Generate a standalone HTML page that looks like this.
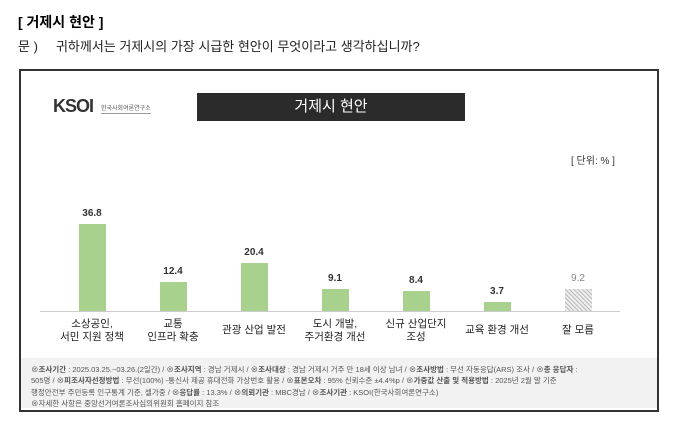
<!DOCTYPE html><html><head><meta charset="utf-8"><style>
body{margin:0;width:679px;height:432px;background:#fff;position:relative;font-family:"Liberation Sans","Noto Sans CJK KR",sans-serif;overflow:hidden}
.a{position:absolute;white-space:nowrap}
.bar{position:absolute;background:#a9d18e;width:27px}
.v{position:absolute;width:60px;text-align:center;font-size:10px;font-weight:bold;color:#333}
.l{position:absolute;width:80px;text-align:center;font-size:10.5px;color:#222;line-height:13px}
</style></head><body>
<div class="a" style="left:18px;top:12px;font-size:14px;font-weight:bold">[ 거제시 현안 ]</div>
<div class="a" style="left:18px;top:36px;font-size:13px;color:#222">문 )&nbsp;&nbsp;&nbsp;&nbsp;&nbsp;귀하께서는 거제시의 가장 시급한 현안이 무엇이라고 생각하십니까?</div>
<div style="position:absolute;left:19px;top:69px;width:636px;height:339px;border:2px solid #333"></div>
<div class="a" style="left:53px;top:96px;font-size:18px;font-weight:bold;color:#333;letter-spacing:-1px">KSOI</div>
<div class="a" style="left:101px;top:103px;font-size:6px;color:#555;border-bottom:1px solid #999;padding-bottom:1px">한국사회여론연구소</div>
<div style="position:absolute;left:197px;top:93px;width:268px;height:28px;background:#2b2b2b;color:#fff;font-size:15px;text-align:center;line-height:28px">거제시 현안</div>
<div class="a" style="left:571px;top:152px;font-size:10px;color:#333">[ 단위: % ]</div>
<div class="bar" style="left:79px;top:224px;height:87px"></div>
<div class="bar" style="left:160px;top:282px;height:29px"></div>
<div class="bar" style="left:241px;top:263px;height:48px"></div>
<div class="bar" style="left:322px;top:289px;height:22px"></div>
<div class="bar" style="left:403px;top:291px;height:20px"></div>
<div class="bar" style="left:484px;top:302px;height:9px"></div>
<div class="bar" style="left:565px;top:289px;height:22px;background:repeating-linear-gradient(45deg,#bbb 0 1px,#eee 1px 3px)"></div>
<div class="v" style="left:62px;top:208px">36.8</div>
<div class="v" style="left:143px;top:266px">12.4</div>
<div class="v" style="left:224px;top:247px">20.4</div>
<div class="v" style="left:305px;top:273px">9.1</div>
<div class="v" style="left:386px;top:275px">8.4</div>
<div class="v" style="left:467px;top:286px">3.7</div>
<div class="v" style="left:548px;top:273px;color:#888;font-weight:normal">9.2</div>
<div style="position:absolute;left:40px;top:311px;width:580px;height:1px;background:#ccc"></div>
<div class="l" style="left:52px;top:318px">소상공인,<br>서민 지원 정책</div>
<div class="l" style="left:133px;top:318px">교통<br>인프라 확충</div>
<div class="l" style="left:214px;top:324px">관광 산업 발전</div>
<div class="l" style="left:295px;top:318px">도시 개발,<br>주거환경 개선</div>
<div class="l" style="left:376px;top:318px">신규 산업단지<br>조성</div>
<div class="l" style="left:457px;top:324px">교육 환경 개선</div>
<div class="l" style="left:538px;top:324px">잘 모름</div>
<div style="position:absolute;left:21px;top:358px;width:636px;height:50px;background:#f2f2f2"></div>
<div class="a" style="left:31px;top:364px;font-size:7.5px;color:#555;line-height:11.3px">⊗<b>조사기간</b> : 2025.03.25.~03.26.(2일간) / ⊗<b>조사지역</b> : 경남 거제시 / ⊗<b>조사대상</b> : 경남 거제시 거주 만 18세 이상 남녀 / ⊗<b>조사방법</b> : 무선 자동응답(ARS) 조사 / ⊗<b>총 응답자</b> :<br>505명 / ⊗<b>피조사자선정방법</b> : 무선(100%) -통신사 제공 휴대전화 가상번호 활용 / ⊗<b>표본오차</b> : 95% 신뢰수준 ±4.4%p / ⊗<b>가중값 산출 및 적용방법</b> : 2025년 2월 말 기준<br>행정안전부 주민등록 인구통계 기준, 셀가중 / ⊗<b>응답률</b> : 13.3% / ⊗<b>의뢰기관</b> : MBC경남 / ⊗<b>조사기관</b> : KSOI(한국사회여론연구소)<br>⊗자세한 사항은 중앙선거여론조사심의위원회 홈페이지 참조</div>
</body></html>
